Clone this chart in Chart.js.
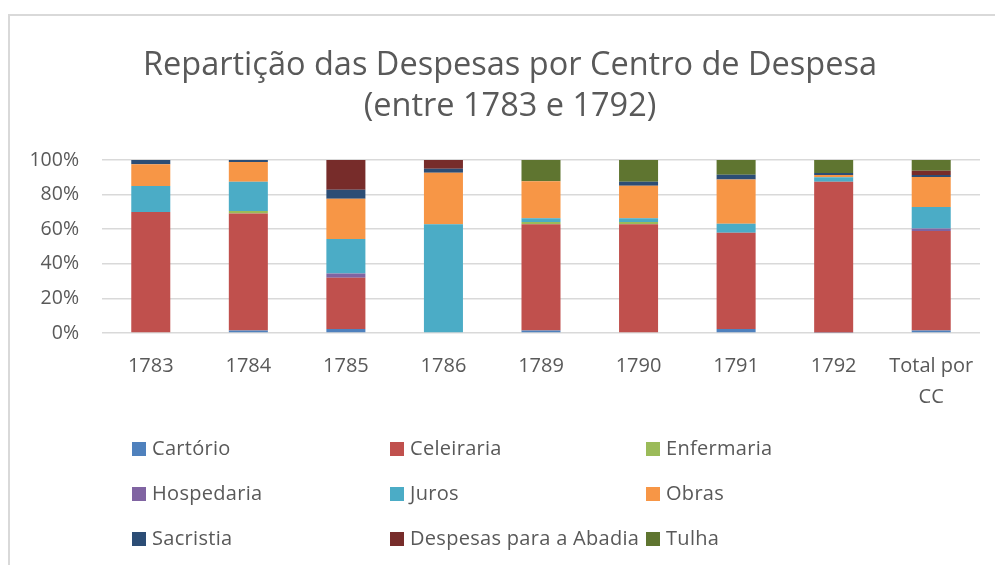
<!DOCTYPE html>
<html>
<head>
<meta charset="utf-8">
<script src="https://cdn.jsdelivr.net/npm/chart.js@4"></script>
<style>
  html, body { margin: 0; padding: 0; background: #fff; }
  #wrap { position: relative; width: 995px; height: 565px; overflow: hidden; }
  #frame { position: absolute; left: 8px; top: 14px; width: 1000px; height: 600px; border: 2px solid #d9d9d9; }
  #chart { position: absolute; left: 0; top: 0; }
  #title { position: absolute; left: 25px; top: 42px; width: 970px; text-align: center; font-family: "Open Sans", sans-serif; font-size: 32.5px; line-height: 41px; color: #595959; }
  .leg { position: absolute; font-family: "Open Sans", sans-serif; font-size: 20px; letter-spacing: 0.3px; color: #595959; line-height: 20px; white-space: nowrap; }
  .leg span.box { display: inline-block; width: 14px; height: 14px; margin-right: 6px; vertical-align: -1px; }
</style>
</head>
<body>
<div id="wrap">
  <div id="frame"></div>
  <canvas id="chart" width="995" height="565"></canvas>
  <div id="title">Repartição das Despesas por Centro de Despesa<br>(entre 1783 e 1792)</div>
  <div id="legend"></div>
</div>
<script>
// =========================
// DATA
// =========================
const anos = ["1783", "1784", "1785", "1786", "1789", "1790", "1791", "1792", ["Total por", "CC"]];

const cartorio   = [0.5, 1.5, 2.3, 0,    1.5,  0.5,  2.3,  0.3,  1.5];
const celeiraria = [69.5, 67.6, 29.6, 0, 61.4, 62.4, 55.6, 87.1, 57.4];
const enfermaria = [0,   1.4, 0,   0,    1.2,  1.2,  0,    0,    0];
const hospedaria = [0,   0,   2.5, 0,    0,    0,    0,    0,    1.5];
const juros      = [15,  16.9, 19.9, 62.9, 2.3, 2.3, 5.2,  2.6,  12.4];
const obras      = [12.5, 11.4, 23.3, 29.7, 21.3, 18.7, 25.7, 1.3, 17.4];
const sacristia  = [2.5, 1.2, 5.2, 2.4,  0,    2.3,  2.7,  1.2,  1.1];
const despesasAbadia = [0, 0, 17.2, 5,  0,    0,    0,    0,    2.5];
const tulha      = [0,   0,   0,   0,    12.3, 12.6, 8.5,  7.5,  6.2];

const percentTicks = [0, 20, 40, 60, 80, 100];

const series = [
    { label: "Cartório", data: cartorio, color: "#4F81BD" },
    { label: "Celeiraria", data: celeiraria, color: "#C0504D" },
    { label: "Enfermaria", data: enfermaria, color: "#9BBB59" },
    { label: "Hospedaria", data: hospedaria, color: "#8064A2" },
    { label: "Juros", data: juros, color: "#4BACC6" },
    { label: "Obras", data: obras, color: "#F79646" },
    { label: "Sacristia", data: sacristia, color: "#2C4D75" },
    { label: "Despesas para a Abadia", data: despesasAbadia, color: "#772C2A" },
    { label: "Tulha", data: tulha, color: "#5F7530" },
];

// =========================
// CHART
// =========================
const fontFam = "'Open Sans', sans-serif";
const ctx = document.getElementById("chart").getContext("2d");

new Chart(ctx, {
    type: "bar",
    data: {
        labels: anos,
        datasets: series.map((s) => ({
            label: s.label,
            data: s.data,
            backgroundColor: s.color,
            borderWidth: 0,
            barPercentage: 0.4,
            categoryPercentage: 1,
        })),
    },
    options: {
        responsive: false,
        animation: false,
        layout: { padding: { left: 0, right: 15, top: 160, bottom: 132 } },
        scales: {
            x: {
                stacked: true,
                grid: { display: false, drawTicks: false },
                border: { display: false },
                ticks: {
                    color: "#595959",
                    padding: 18,
                    font: { family: fontFam, size: 20, lineHeight: 1.55 },
                    maxRotation: 0,
                },
                afterFit: (scale) => { scale.height = 100; },
            },
            y: {
                stacked: true,
                min: 0,
                max: 100,
                afterBuildTicks: (scale) => {
                    scale.ticks = percentTicks.map((v) => ({ value: v }));
                },
                grid: { color: "#d9d9d9", lineWidth: 1.5, drawTicks: false },
                border: { display: false },
                ticks: {
                    color: "#595959",
                    padding: 23,
                    font: { family: fontFam, size: 19.5 },
                    callback: (v) => v + "%",
                },
                afterFit: (scale) => { scale.width = 102; },
            },
        },
        plugins: {
            legend: { display: false },
            tooltip: { enabled: false },
            title: { display: false },
        },
    },
});

// Legenda (3 colunas)
const legendEl = document.getElementById("legend");
const colX = [132, 390, 646];
const rowY = [438, 483, 528];
series.forEach((s, i) => {
    const d = document.createElement("div");
    d.className = "leg";
    d.style.left = colX[i % 3] + "px";
    d.style.top = rowY[Math.floor(i / 3)] + "px";
    d.innerHTML = '<span class="box" style="background:' + s.color + '"></span>' + s.label;
    legendEl.appendChild(d);
});
</script>
</body>
</html>
